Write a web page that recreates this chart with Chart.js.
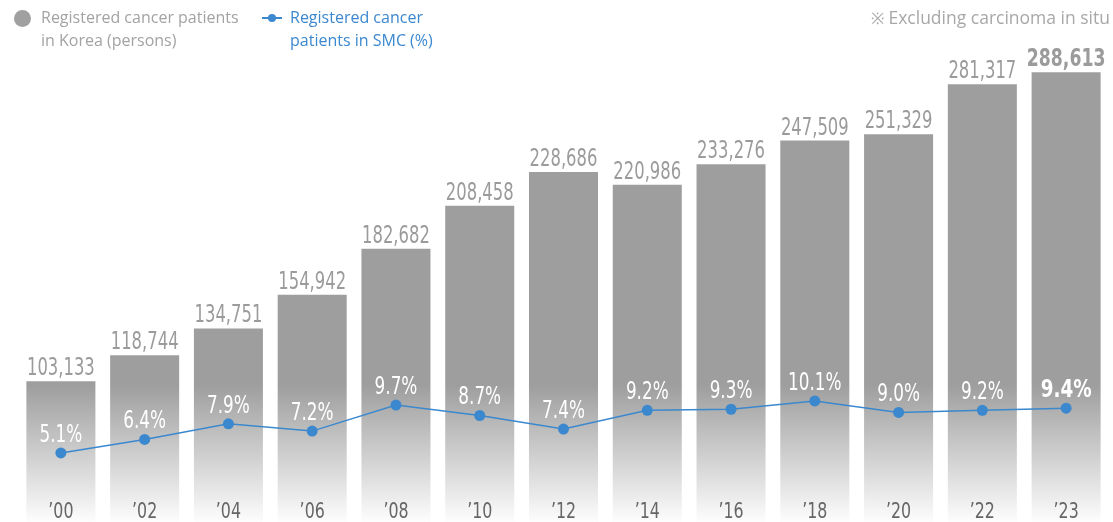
<!DOCTYPE html>
<html>
<head>
<meta charset="utf-8">
<script src="https://cdn.jsdelivr.net/npm/chart.js@4"></script>
<style>
  html, body { margin: 0; padding: 0; background: #fff; }
  #wrap { position: relative; width: 1113px; height: 522px; overflow: hidden; }
  #myChart { position: absolute; left: 0; top: 0; }
  .legend { position: absolute; font-family: 'Open Sans', sans-serif; font-size: 16px; line-height: 23px; }
  .leg1 { left: 41px; top: 6px; color: #a3a3a3; }
  .leg2 { left: 290px; top: 6px; color: #3b88cf; }
  .dot { position: absolute; left: 14px; top: 10px; width: 17px; height: 17px; border-radius: 50%; background: #a0a0a0; }
  .mark { position: absolute; left: 262px; top: 17px; width: 20px; height: 2px; background: #3b88cf; }
  .mark:after { content: ''; position: absolute; left: 6px; top: -3px; width: 8px; height: 8px; border-radius: 50%; background: #3b88cf; }
  .note { position: absolute; right: 3px; top: 5px; font-family: 'Open Sans', sans-serif; font-size: 17.5px; line-height: 24px; color: #a8a8a8; }
  .note span { font-size: 16px; margin-right: 4px; }
</style>
</head>
<body>
<div id="wrap">
  <canvas id="myChart" width="1113" height="522"></canvas>
  <div class="dot"></div>
  <div class="legend leg1">Registered cancer patients<br>in Korea (persons)</div>
  <div class="mark"></div>
  <div class="legend leg2">Registered cancer<br>patients in SMC (%)</div>
  <div class="note"><span>※</span>Excluding carcinoma in situ</div>
</div>
<script>
// data
var yearLabels = ['’00', '’02', '’04', '’06', '’08', '’10', '’12', '’14', '’16', '’18', '’20', '’22', '’23'];
var koreaPatients = [103133, 118744, 134751, 154942, 182682, 208458, 228686, 220986, 233276, 247509, 251329, 281317, 288613];
var smcPercent = [5.1, 6.4, 7.9, 7.2, 9.7, 8.7, 7.4, 9.2, 9.3, 10.1, 9.0, 9.2, 9.4];

var BLUE = '#3b88cf';
var NARROW = '"Liberation Sans Narrow", "DejaVu Sans Condensed", sans-serif';

function condensedText(ctx, text, x, y, sx) {
    ctx.save();
    ctx.translate(x, y);
    ctx.scale(sx, 1);
    ctx.fillText(text, 0, 0);
    ctx.restore();
}

// labels plugin: values above bars, % above points, years at the bottom
var labelPlugin = {
    id: 'labelPlugin',
    afterDatasetsDraw: function(chart) {
        var ctx = chart.ctx;
        var last = koreaPatients.length - 1;
        ctx.save();
        ctx.textAlign = 'center';
        ctx.textBaseline = 'alphabetic';

        // bar values
        var bars = chart.getDatasetMeta(1).data;
        ctx.fillStyle = '#9b9b9b';
        bars.forEach(function(bar, i) {
            ctx.font = (i === last ? 'bold ' : '') + '24px ' + NARROW;
            condensedText(ctx, koreaPatients[i].toLocaleString('en-US'), bar.x, bar.y - 6, i === last ? 0.8 : 0.76);
        });

        // percentages
        var points = chart.getDatasetMeta(0).data;
        ctx.fillStyle = '#ffffff';
        points.forEach(function(pt, i) {
            ctx.font = (i === last ? 'bold ' : '') + '24px ' + NARROW;
            condensedText(ctx, smcPercent[i].toFixed(1) + '%', pt.x, pt.y - 11, i === last ? 0.85 : 0.78);
        });

        // year labels
        var xScale = chart.scales.x;
        ctx.fillStyle = '#666666';
        ctx.font = '22px ' + NARROW;
        yearLabels.forEach(function(lbl, i) {
            condensedText(ctx, lbl, xScale.getPixelForValue(i), 518, 0.8);
        });
        ctx.restore();
    }
};

var ctx = document.getElementById('myChart').getContext('2d');
var chart = new Chart(ctx, {
    data: {
        labels: yearLabels,
        datasets: [{
            type: 'line',
            label: 'Registered cancer patients in SMC (%)',
            data: smcPercent,
            yAxisID: 'y1',
            borderColor: BLUE,
            backgroundColor: BLUE,
            borderWidth: 1.5,
            pointRadius: 5.5,
            pointHoverRadius: 5.5,
            pointBorderWidth: 0,
            tension: 0,
            order: 0
        }, {
            type: 'bar',
            label: 'Registered cancer patients in Korea (persons)',
            data: koreaPatients,
            yAxisID: 'y',
            backgroundColor: function(context) {
                var g = context.chart.ctx.createLinearGradient(0, 385, 0, 522);
                g.addColorStop(0, '#9d9e9d');
                g.addColorStop(1, '#fdfdfd');
                return g;
            },
            borderWidth: 0,
            barPercentage: 0.824,
            categoryPercentage: 1,
            order: 1
        }]
    },
    options: {
        responsive: false,
        animation: false,
        layout: { autoPadding: false, padding: { left: 19, right: 5, top: 60, bottom: 0 } },
        plugins: {
            legend: { display: false },
            tooltip: { enabled: false }
        },
        scales: {
            x: { display: false, offset: true },
            y: { display: false, min: 18600, max: 295900 },
            y1: { display: false, min: -1.54, max: 42.88 }
        }
    },
    plugins: [labelPlugin]
});
</script>
</body>
</html>
